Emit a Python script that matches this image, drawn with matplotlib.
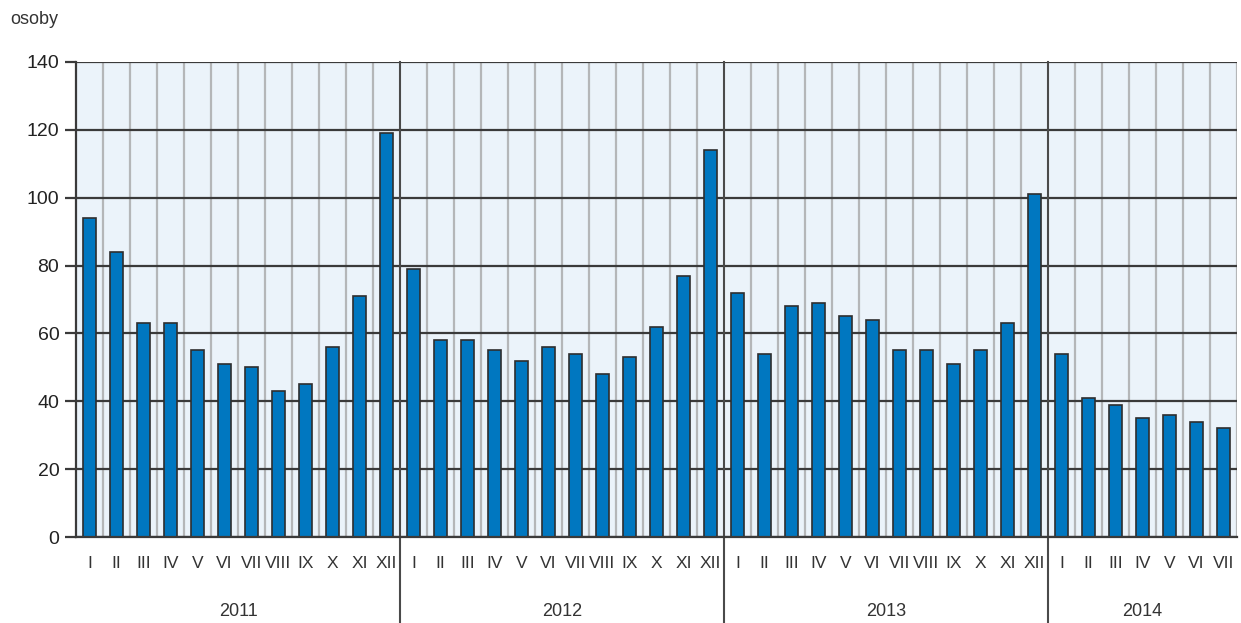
import matplotlib
matplotlib.use("Agg")
import matplotlib.pyplot as plt
import numpy as np

plt.rcParams['font.family'] = ['Liberation Sans', 'DejaVu Sans']

years = ["2011", "2012", "2013", "2014"]
months = ["I", "II", "III", "IV", "V", "VI", "VII", "VIII", "IX", "X", "XI", "XII"]
v2011 = [94, 84, 63, 63, 55, 51, 50, 43, 45, 56, 71, 119]
v2012 = [79, 58, 58, 55, 52, 56, 54, 48, 53, 62, 77, 114]
v2013 = [72, 54, 68, 69, 65, 64, 55, 55, 51, 55, 63, 101]
v2014 = [54, 41, 39, 35, 36, 34, 32]
yticks = [0, 20, 40, 60, 80, 100, 120, 140]
unit_label = "osoby"

series = [v2011, v2012, v2013, v2014]
values = [v for s in series for v in s]
labels = [months[i] for s in series for i in range(len(s))]
n = len(values)
x = np.arange(n) + 0.5

W, H = 1241, 623
fig = plt.figure(figsize=(W / 100, H / 100), dpi=100)
left, right, top, bottom = 76, 1237, 62, 537
ax = fig.add_axes([left / W, 1 - bottom / H, (right - left) / W, (bottom - top) / H])

ax.set_facecolor('#EBF3FA')
ax.set_xlim(0, n)
ax.set_ylim(0, 140)

year_bounds = np.cumsum([len(s) for s in series])
starts = [0] + list(year_bounds[:-1])

# month separators
for i in range(1, n + 1):
    if i in starts:
        continue
    ax.axvline(i, color='#B4B6B8', lw=1.6, zorder=1)

# horizontal grid
for t in yticks:
    ax.axhline(t, color='#3A3A3A', lw=1.6, zorder=2)

ax.bar(x, values, width=0.45, color='#0077C0', edgecolor='#2E2E2E', linewidth=1.2, zorder=3)

# year separators extending below axis
fig_bottom_axfrac = -(H - bottom) / (bottom - top)
trans = ax.get_xaxis_transform()
for s in starts[1:]:
    ax.plot([s, s], [1, fig_bottom_axfrac], color='#4A4A4A', lw=1.5, transform=trans,
            clip_on=False, zorder=4)

for sp in ['top', 'right']:
    ax.spines[sp].set_visible(False)
ax.spines['left'].set_color('#3A3A3A')
ax.spines['left'].set_linewidth(1.6)
ax.spines['left'].set_zorder(5)
ax.spines['bottom'].set_color('#3A3A3A')
ax.spines['bottom'].set_linewidth(1.6)
ax.spines['bottom'].set_zorder(5)

ax.set_yticks(yticks)
ax.set_yticklabels([str(t) for t in yticks], fontsize=14, color='#222222')
ax.tick_params(axis='y', length=8, width=1.6, color='#3A3A3A', pad=4)

ax.set_xticks(x)
ax.set_xticklabels(labels, fontsize=12.5, color='#333333')
ax.tick_params(axis='x', length=0, pad=14)

# year labels
for yr, s, e in zip(years, starts, year_bounds):
    ax.text((s + e) / 2, -(611 - bottom) / (bottom - top), yr, transform=trans,
            ha='center', va='center', fontsize=13, color='#333333')

fig.text(10 / W, 1 - 20 / H, unit_label, ha='left', va='center', fontsize=13, color='#333333')

fig.savefig('out.png', dpi=100, facecolor='white')
